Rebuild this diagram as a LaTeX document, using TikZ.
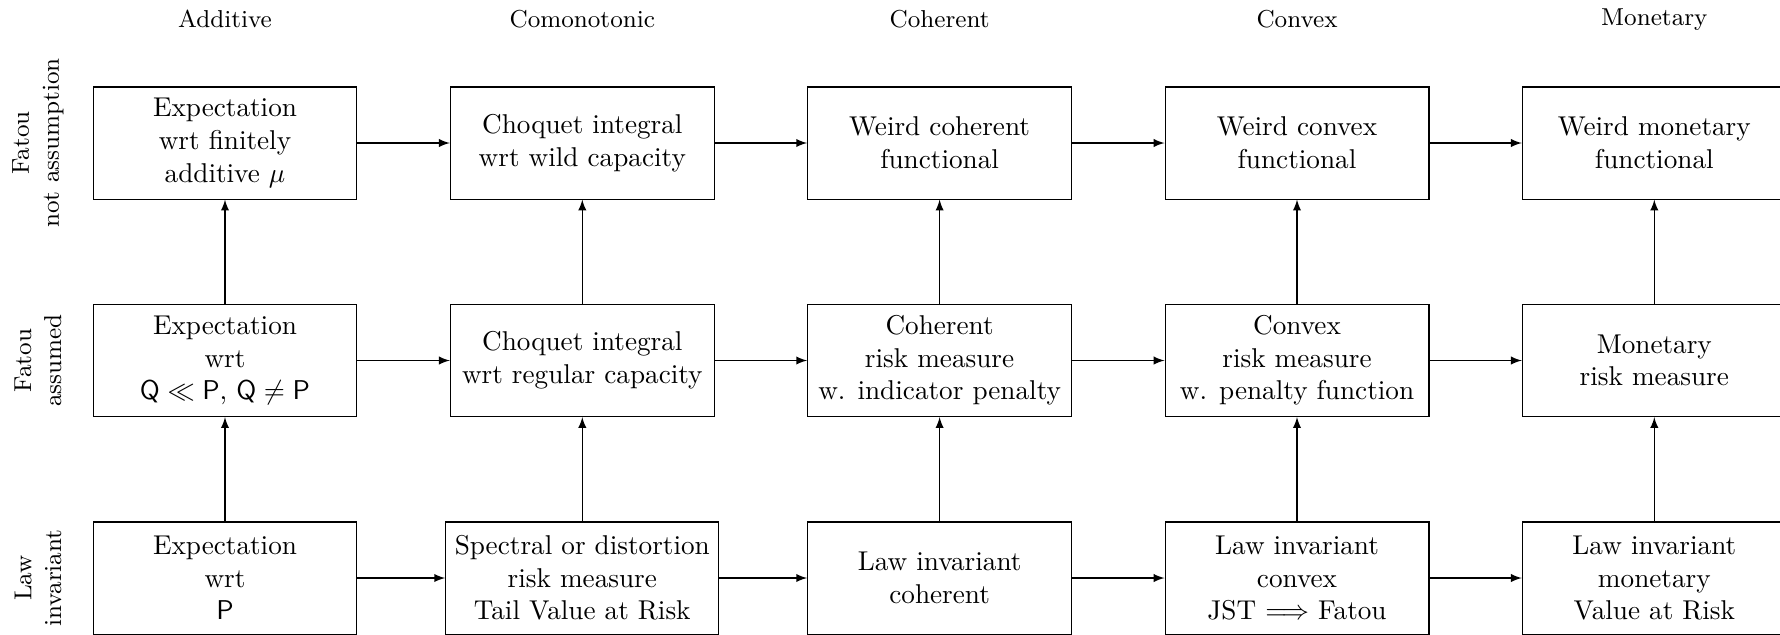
\documentclass[tikz,border=0pt]{standalone}
\usepackage{amsmath,amssymb}
\begin{document}
\begin{tikzpicture}[x=0.3676pt,y=-0.3676pt,
  box/.style={draw,line width=0.4pt,minimum width=97pt,minimum height=41.2pt,align=center,inner sep=3.33pt},
  hdr/.style={font=\small,anchor=base},
  rowlab/.style={font=\small,rotate=90,align=center},
  arr/.style={-latex,line width=0.4pt}]
\useasboundingbox (0,0) rectangle (1780,634);
% column headers
\node[hdr] (h1) at (225,27) {Additive};
\node[hdr] (h2) at (582.3,27) {Comonotonic};
\node[hdr] (h3) at (939.6,27) {Coherent};
\node[hdr] (h4) at (1297,27) {Convex};
\node[hdr] (h5) at (1654.3,25) {Monetary};
% row labels
\node[rowlab] (r1) at (38,143) {Fatou\\not assumption};
\node[rowlab] (r2) at (38,360.5) {Fatou\\assumed};
\node[rowlab] (r3) at (38,578) {Law\\invariant};
% row 1
\node[box] (a1) at (225,143) {Expectation\\wrt finitely\\additive $\mu$};
\node[box] (b1) at (582.3,143) {Choquet integral\\wrt wild capacity};
\node[box] (c1) at (939.6,143) {Weird coherent\\functional};
\node[box] (d1) at (1297,143) {Weird convex\\functional};
\node[box] (e1) at (1654.3,143) {Weird monetary\\functional};
% row 2
\node[box] (a2) at (225,360.5) {Expectation\\wrt\\$\mathsf{Q}\ll\mathsf{P}$, $\mathsf{Q}\neq\mathsf{P}$};
\node[box] (b2) at (582.3,360.5) {Choquet integral\\wrt regular capacity};
\node[box] (c2) at (939.6,360.5) {Coherent\\risk measure\\w. indicator penalty};
\node[box] (d2) at (1297,360.5) {Convex\\risk measure\\w. penalty function};
\node[box] (e2) at (1654.3,360.5) {Monetary\\risk measure};
% row 3
\node[box] (a3) at (225,578) {Expectation\\wrt\\$\mathsf{P}$};
\node[box] (b3) at (582.3,578) {Spectral or distortion\\risk measure\\Tail Value at Risk};
\node[box] (c3) at (939.6,578) {Law invariant\\coherent};
\node[box] (d3) at (1297,578) {Law invariant\\convex\\JST $\Longrightarrow$ Fatou};
\node[box] (e3) at (1654.3,578) {Law invariant\\monetary\\Value at Risk};
% horizontal arrows
\foreach \r in {1,2,3}{
  \draw[arr] (a\r) -- (b\r);
  \draw[arr] (b\r) -- (c\r);
  \draw[arr] (c\r) -- (d\r);
  \draw[arr] (d\r) -- (e\r);
}
% vertical arrows
\foreach \c in {a,b,c,d,e}{
  \draw[arr] (\c3) -- (\c2);
  \draw[arr] (\c2) -- (\c1);
}
\end{tikzpicture}
\end{document}
